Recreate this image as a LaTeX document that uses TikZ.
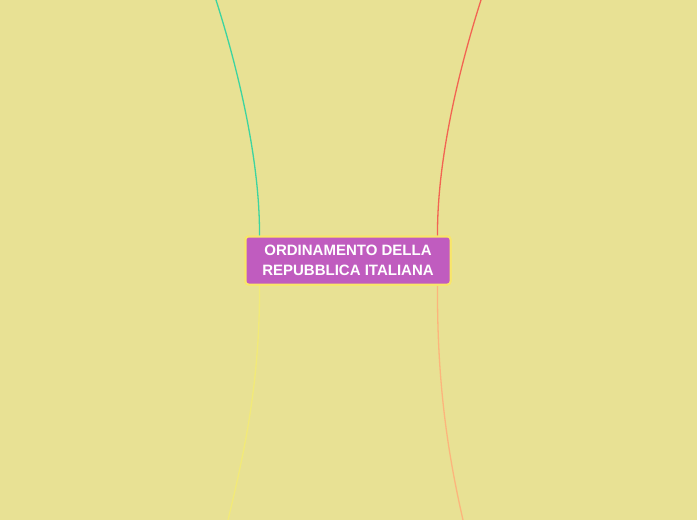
\documentclass[tikz,border=0pt]{standalone}
\usepackage{fontspec}
\setmainfont{Liberation Sans}
\definecolor{paper}{HTML}{E8E194}
\definecolor{rootfill}{HTML}{C05CBF}
\definecolor{rootedge}{HTML}{F9E66A}
\definecolor{teal}{HTML}{3DD4A0}
\definecolor{coral}{HTML}{F26452}
\definecolor{lemon}{HTML}{F2EA78}
\definecolor{peach}{HTML}{FCB57C}
\tikzset{
  rootbox/.style = {draw = rootedge, line width = 2, fill = rootfill, rounded corners = 3,
    minimum width = 205, minimum height = 48, inner sep = 0, align = center,
    text = white, font = \fontsize{15}{19.5}\selectfont\bfseries},
  branch/.style = {line width = 1.3}
}
\begin{document}
\begin{tikzpicture}[x = 1pt, y = 1pt]
\fill[paper] (0, 0) rectangle (697, -520);
\useasboundingbox (0, 0) rectangle (697, -520);
\coordinate (ul) at (216, 0);
\coordinate (ur) at (481, 0);
\coordinate (dl) at (228, -520);
\coordinate (dr) at (463, -520);
\node[rootbox] (root) at (348, -260.5) {ORDINAMENTO DELLA\\REPUBBLICA ITALIANA};
\draw[branch, teal] (root.north west) ++(15, 0) .. controls (260, -150) and (232, -50) .. (ul);
\draw[branch, coral] (root.north east) ++(-14, 0) .. controls (437, -150) and (465, -50) .. (ur);
\draw[branch, lemon] (root.south west) ++(15, 0) .. controls (260, -380) and (245, -450) .. (dl);
\draw[branch, peach] (root.south east) ++(-14, 0) .. controls (437, -380) and (447, -450) .. (dr);
\node[rootbox] at (root) {ORDINAMENTO DELLA\\REPUBBLICA ITALIANA};
\end{tikzpicture}
\end{document}
